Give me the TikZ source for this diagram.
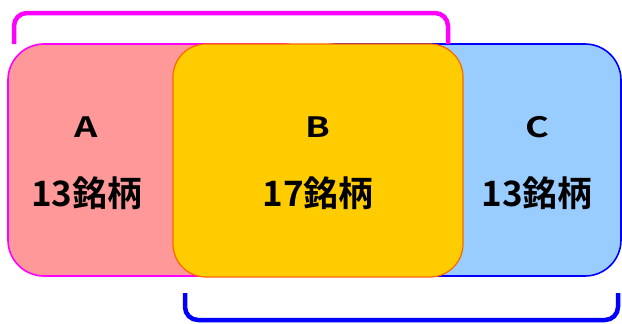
\documentclass[tikz,border=0pt]{standalone}
\usepackage{graphicx}
\usepackage{fontspec}
\newfontfamily\jp{Noto Sans CJK JP}[BoldFont={Noto Sans CJK JP Bold}]
\definecolor{pinkfill}{HTML}{FF9999}
\definecolor{bluefill}{HTML}{99CCFF}
\definecolor{orfill}{HTML}{FFCC00}
\definecolor{orline}{HTML}{FF6600}
\definecolor{mag}{HTML}{FF00FF}
\definecolor{blu}{HTML}{0000FF}
\newcommand{\wideletter}[1]{\scalebox{1.3}[1]{\textbf{#1}}}
\begin{document}
\begin{tikzpicture}[x=1pt,y=-1pt,
  box/.style={rounded corners=36pt,line width=1.6pt},
  brk/.style={line width=4.5pt,rounded corners=13pt},
  lbl/.style={font=\jp\fontsize{28}{28}\selectfont,inner sep=0pt},
  cnt/.style={font=\jp\bfseries\fontsize{35}{35}\selectfont,inner sep=0pt}]
\useasboundingbox (0,0) rectangle (622,324);
\path[box,draw=mag,fill=pinkfill] (8,44) rectangle (320,276);
\path[box,draw=blu,fill=bluefill] (300,44) rectangle (621,276);
\path[box,rounded corners=33pt,line width=1.2pt,draw=orline,fill=orfill] (173,44) rectangle (463,277);
\draw[brk,mag] (14,44) -- (14,13) -- (448,13) -- (448,44);
\draw[brk,blu] (185,293) -- (185,320) -- (618,320) -- (618,293);
\node[lbl] (la) at (86,127) {\wideletter{A}};
\node[lbl] (lb) at (318,127) {\wideletter{B}};
\node[lbl] (lc) at (537,127) {\wideletter{C}};
\node[cnt] (ca) at (87,193) {13銘柄};
\node[cnt] (cb) at (318,193) {17銘柄};
\node[cnt] (cc) at (537,193) {13銘柄};
\end{tikzpicture}
\end{document}
